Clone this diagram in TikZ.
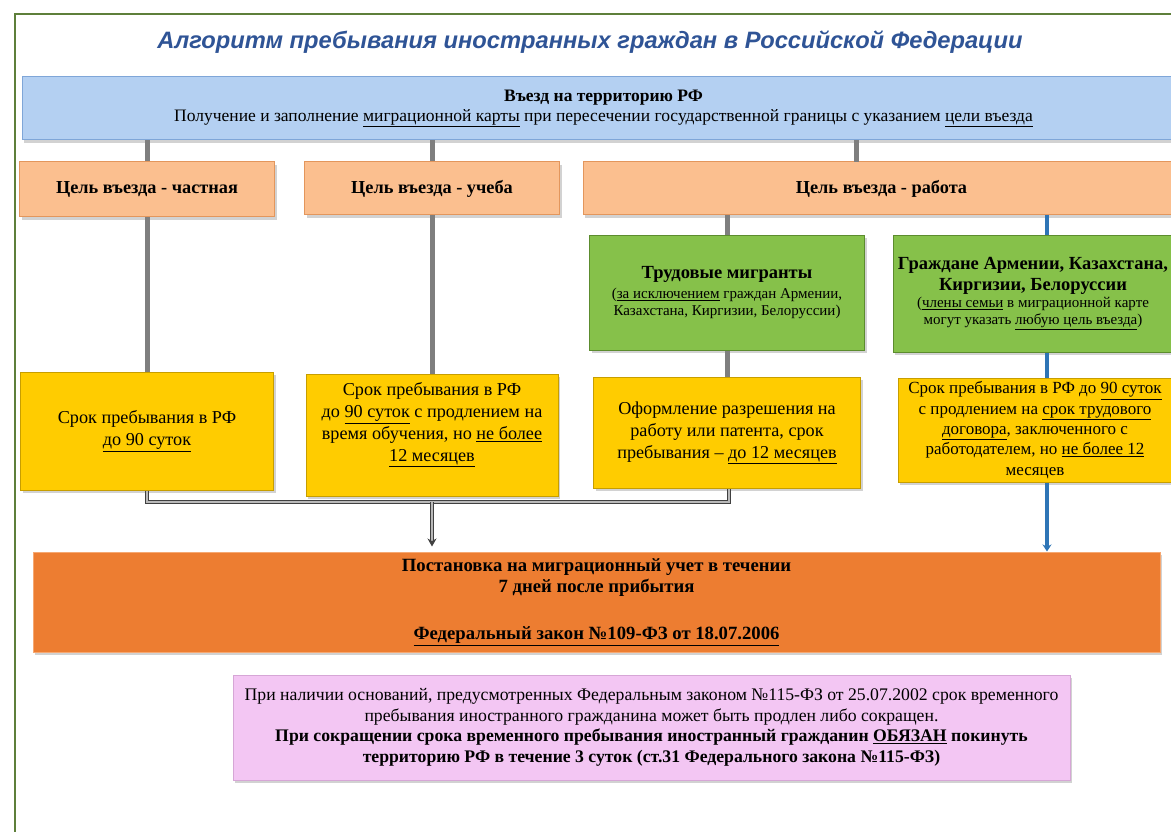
\documentclass[tikz,border=0pt]{standalone}
\usepackage{fontspec}
\setmainfont{Liberation Serif}
\newfontfamily\headfont{Liberation Sans}
\usetikzlibrary{shadows,arrows.meta}

\definecolor{framegreen}{HTML}{5E7F3A}
\definecolor{headblue}{HTML}{2F5496}
\definecolor{entryfill}{HTML}{B4D0F2}
\definecolor{entryedge}{HTML}{7FA6D8}
\definecolor{aimfill}{HTML}{FBBF8F}
\definecolor{aimedge}{HTML}{E3965C}
\definecolor{groupfill}{HTML}{86C14A}
\definecolor{groupedge}{HTML}{5C8C2E}
\definecolor{stayfill}{HTML}{FFCC00}
\definecolor{stayedge}{HTML}{C79E00}
\definecolor{regfill}{HTML}{ED7D31}
\definecolor{regedge}{HTML}{F6A872}
\definecolor{notefill}{HTML}{F3C6F3}
\definecolor{noteedge}{HTML}{D6A6D6}
\definecolor{lineg}{HTML}{7F7F7F}
\definecolor{lineb}{HTML}{2E75B6}

\newcommand{\bighead}{\bfseries\fontsize{18.5}{21}\selectfont}

\begin{document}
\begin{tikzpicture}[
  x=1pt, y=-1pt,
  box/.style={draw, line width=1pt, align=center, inner sep=2pt,
    drop shadow={opacity=0.35, shadow xshift=2pt, shadow yshift=-3pt}},
  entrybox/.style={box, draw=entryedge, fill=entryfill, font=\fontsize{17.5}{20}\selectfont},
  aimbox/.style={box, draw=aimedge, fill=aimfill, font=\bfseries\fontsize{18.3}{20}\selectfont},
  groupbox/.style={box, draw=groupedge, fill=groupfill, font=\fontsize{15}{16.5}\selectfont},
  staybox/.style={box, draw=stayedge, fill=stayfill, font=\fontsize{18.2}{22}\selectfont},
  regbox/.style={box, draw=regedge, fill=regfill, font=\bfseries\fontsize{18.7}{21}\selectfont},
  notebox/.style={box, draw=noteedge, fill=notefill, font=\fontsize{17.7}{20.5}\selectfont},
  gline/.style={line width=5pt, draw=lineg},
  bline/.style={line width=4pt, draw=lineb},
  joint/.style={draw=black!75, double=gray!55, line width=1pt, double distance=2.5pt}
]
\clip[use as bounding box] (0,0) rectangle (1171,832);
\fill[white] (0,0) rectangle (1171,832);
\draw[framegreen, line width=2.5pt] (15,14) rectangle (1195,850);

\node[font=\headfont\bfseries\itshape\fontsize{23.7}{26}\selectfont, text=headblue] (title) at (590,42)
  {Алгоритм пребывания иностранных граждан в Российской Федерации};

% entry
\node[entrybox, minimum width=1163pt, minimum height=63pt] (entry) at (603.5,108.5)
  {\textbf{Въезд на территорию РФ}\\
   Получение и заполнение \underline{миграционной карты} при пересечении государственной границы с указанием \underline{цели въезда}};

% aims
\node[aimbox, minimum width=255pt, minimum height=55pt] (priv) at (147,189.5) {Цель въезда - частная};
\node[aimbox, minimum width=255pt, minimum height=53pt] (study) at (432,188.5) {Цель въезда - учеба};
\node[aimbox, minimum width=597pt, minimum height=53pt] (work) at (881.5,188.5) {Цель въезда - работа};
\coordinate (wtop) at (856,162);
\coordinate (bl) at (1047,0);

% groups of workers
\node[groupbox, minimum width=275pt, minimum height=115pt] (mig) at (727,292.5)
  {{\bighead Трудовые мигранты}\\[4pt]
   (\underline{за исключением} граждан Армении,\\ Казахстана, Киргизии, Белоруссии)};
\node[groupbox, minimum width=280pt, minimum height=117pt] (citz) at (1033,293.5)
  {{\bighead Граждане Армении, Казахстана,}\\[4pt] {\bighead Киргизии, Белоруссии}\\[1pt]
   (\underline{члены семьи} в миграционной карте\\ могут указать \underline{любую цель въезда})};

% terms of stay
\node[staybox, minimum width=253pt, minimum height=118pt] (stay1) at (147,431)
  {Срок пребывания в РФ\\ \underline{до 90 суток}};
\node[staybox, minimum width=252pt, minimum height=122pt] (stay2) at (432,435)
  {Срок пребывания в РФ\\ до \underline{90 суток} с продлением на\\ время обучения, но \underline{не более}\\ \underline{12 месяцев}\\[4pt]};
\node[staybox, minimum width=267pt, minimum height=111pt] (permit) at (727,432.5)
  {Оформление разрешения на\\ работу или патента, срок\\ пребывания -- \underline{до 12 месяцев}};
\node[staybox, font=\fontsize{17}{20.3}\selectfont, inner sep=1pt, minimum width=274pt, minimum height=104pt] (stay4) at (1035,430)
  {Срок пребывания в РФ до \underline{90 суток}\\ с продлением на \underline{срок трудового}\\ \underline{договора}, заключенного с\\ работодателем, но \underline{не более 12}\\ месяцев};

% registration
\node[regbox, minimum width=1127pt, minimum height=100pt] (reg) at (596.5,602)
  {Постановка на миграционный учет в течении\\ 7 дней после прибытия\\[26pt]
   \underline{Федеральный закон №109-ФЗ от 18.07.2006}};

\node[notebox, minimum width=837pt, minimum height=105pt] (note) at (651.5,727.5)
  {При наличии оснований, предусмотренных Федеральным законом №115-ФЗ от 25.07.2002 срок временного\\
   пребывания иностранного гражданина может быть продлен либо сокращен.\\
   \textbf{При сокращении срока временного пребывания иностранный гражданин \underline{ОБЯЗАН} покинуть}\\
   \textbf{территорию РФ в течение 3 суток (ст.31 Федерального закона №115-ФЗ)}};

% connectors
\draw[gline] (entry.south -| priv) -- (priv.north);
\draw[gline] (entry.south -| study) -- (study.north);
\draw[gline] (entry.south -| wtop) -- (wtop);
\draw[gline] (priv.south) -- (stay1.north);
\draw[gline] (study.south) -- (stay2.north);
\draw[gline] (work.south -| mig) -- (mig.north);
\draw[gline] (mig.south) -- (permit.north);
\draw[bline] (work.south -| bl) -- (citz.north -| bl);
\draw[bline] (citz.south -| bl) -- (stay4.north -| bl);
\draw[bline, -{Stealth[length=7pt,width=9pt]}] (stay4.south -| bl) -- (reg.north -| bl);

\coordinate (jl) at (147,502);
\coordinate (jr) at (729,502);
\draw[joint] (stay1.south) -- (jl) -- (jr) -- (permit.south -| jr);
\draw[joint, -{Stealth[length=8pt,width=9pt]}] (jl -| stay2) -- ([yshift=5pt]reg.north -| stay2);
\end{tikzpicture}
\end{document}
